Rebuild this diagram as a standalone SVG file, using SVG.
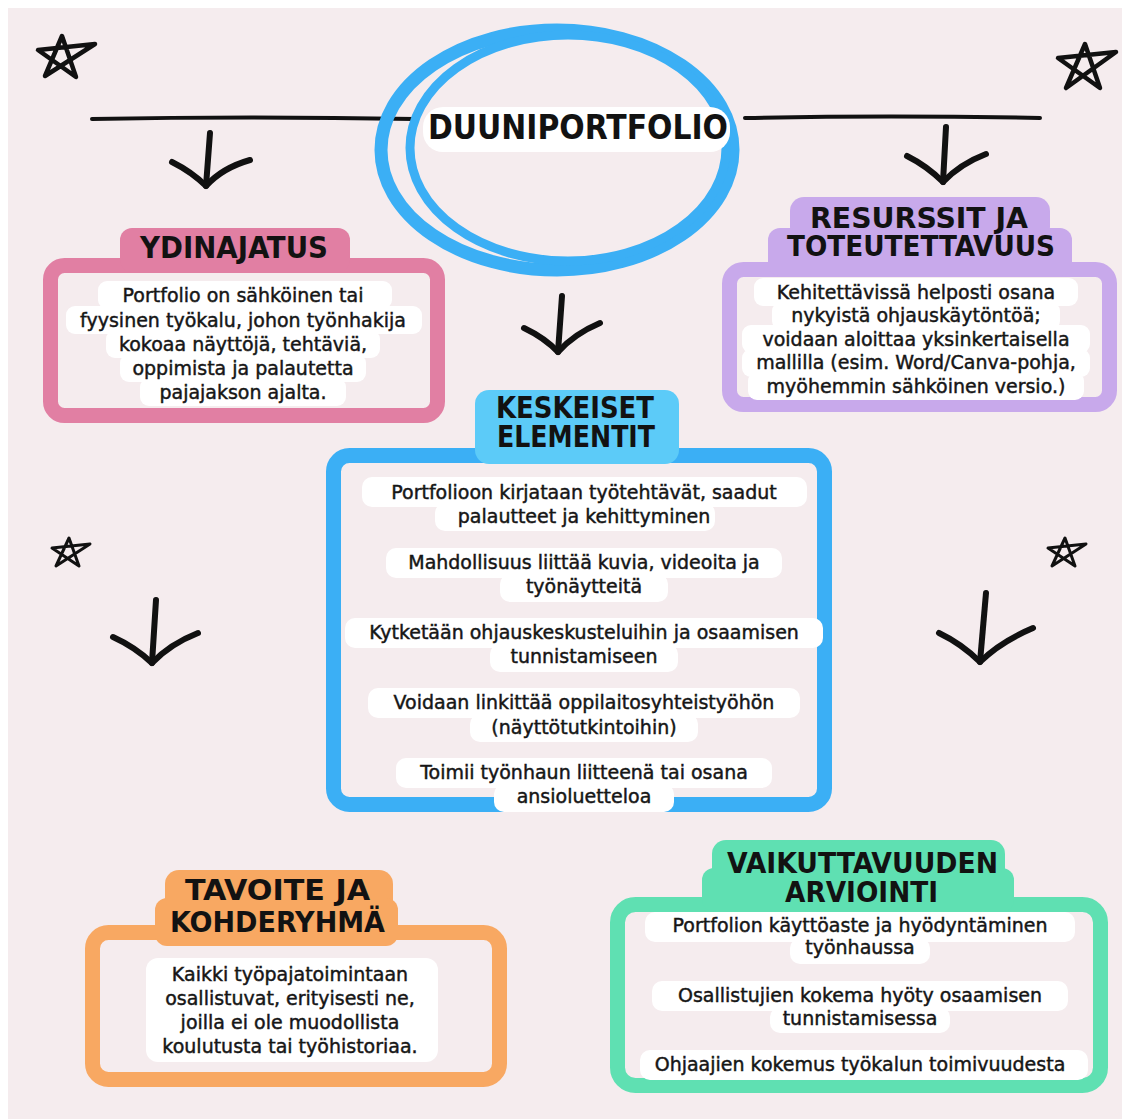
<svg xmlns="http://www.w3.org/2000/svg" width="1122" height="1119" viewBox="0 0 1122 1119">
<style>
.t{font-family:"DejaVu Sans","Noto Sans",sans-serif;font-size:19px;fill:#161616;stroke:#161616;stroke-width:0.45;text-anchor:middle}
.h{font-family:"DejaVu Sans Condensed","Liberation Sans Narrow","DejaVu Sans",sans-serif;font-weight:bold;font-stretch:condensed;fill:#121212}
.blob{fill:#ffffff}
.ink{fill:none;stroke:#111;stroke-linecap:round;stroke-linejoin:round}
.frame{fill:none;stroke-width:15}
</style>
<rect width="1122" height="1119" fill="#ffffff"/>
<rect x="8" y="8" width="1114" height="1111" fill="#F5ECEE"/>

<g id="decorations">
  <path class="ink" stroke-width="4.5" d="M38,50 L95,44 L45,76 L62,36 L76,77 Z"/>
  <path class="ink" stroke-width="4.5" d="M1058,58 L1116,52 L1066,88 L1085,44 L1100,88 Z"/>
  <path class="ink" stroke-width="3" d="M52,548 L90,544 L56,566 L69,538 L79,566 Z"/>
  <path class="ink" stroke-width="3" d="M1048,548 L1086,544 L1052,566 L1065,538 L1075,566 Z"/>
</g>

<g id="connectors">
  <path class="ink" stroke-width="4" d="M92,119 Q250,116 415,119"/>
  <path class="ink" stroke-width="4" d="M745,118 Q890,115 1040,118"/>
  <g stroke-width="6" class="ink">
    <path d="M210,133 L206,186"/><path d="M172,162 Q192,172 206,186 Q222,168 250,160"/>
    <path d="M946,127 L943,182"/><path d="M907,156 Q927,166 943,182 Q960,164 986,154"/>
    <path d="M562,296 L558,352"/><path d="M524,328 Q545,338 558,352 Q574,334 600,323"/>
    <path d="M156,600 L152,663"/><path d="M113,637 Q135,647 152,663 Q170,644 198,633"/>
    <path d="M986,593 L980,662"/><path d="M939,633 Q962,644 980,662 Q1000,642 1033,628"/>
  </g>
</g>

<g id="title">
  <ellipse cx="557" cy="150" rx="176" ry="120" fill="none" stroke="#3BAFF5" stroke-width="13"/>
  <ellipse cx="568" cy="148" rx="158" ry="113" fill="none" stroke="#3BAFF5" stroke-width="9"/>
  <rect x="423" y="107" width="307" height="45" rx="20" fill="#ffffff"/>
  <text class="h" x="428" y="139" font-size="34" textLength="300" lengthAdjust="spacingAndGlyphs">DUUNIPORTFOLIO</text>
</g>

<g id="ydinajatus">
  <rect class="frame" x="50.5" y="265.5" width="387" height="150" rx="14" stroke="#E17FA3"/>
  <rect x="120" y="228" width="230" height="44" rx="12" fill="#E17FA3"/>
  <text class="h" x="140" y="258" font-size="31" textLength="188" lengthAdjust="spacingAndGlyphs">YDINAJATUS</text>
  <rect class="blob" x="98" y="281" width="294" height="28" rx="9"/>
  <rect class="blob" x="66" y="306" width="356" height="28" rx="9"/>
  <rect class="blob" x="106" y="330" width="274" height="28" rx="9"/>
  <rect class="blob" x="120" y="354" width="246" height="28" rx="9"/>
  <rect class="blob" x="140" y="378" width="206" height="28" rx="9"/>
  <text class="t" x="243" y="302">Portfolio on sähköinen tai</text>
  <text class="t" x="243" y="327">fyysinen työkalu, johon työnhakija</text>
  <text class="t" x="243" y="351">kokoaa näyttöjä, tehtäviä,</text>
  <text class="t" x="243" y="375">oppimista ja palautetta</text>
  <text class="t" x="243" y="399">pajajakson ajalta.</text>
</g>

<g id="resurssit">
  <rect class="frame" x="729.5" y="269.5" width="380" height="135" rx="14" stroke="#C8A9EB"/>
  <rect x="790" y="197" width="260" height="44" rx="14" fill="#C8A9EB"/>
  <rect x="768" y="228" width="304" height="48" rx="12" fill="#C8A9EB"/>
  <text class="h" x="810" y="228" font-size="29" textLength="218" lengthAdjust="spacingAndGlyphs">RESURSSIT JA</text>
  <text class="h" x="787" y="256" font-size="29" textLength="268" lengthAdjust="spacingAndGlyphs">TOTEUTETTAVUUS</text>
  <rect class="blob" x="754" y="278" width="324" height="28" rx="9"/>
  <rect class="blob" x="772" y="302" width="288" height="28" rx="9"/>
  <rect class="blob" x="742" y="325" width="348" height="28" rx="9"/>
  <rect class="blob" x="742" y="349" width="348" height="28" rx="9"/>
  <rect class="blob" x="748" y="372" width="336" height="28" rx="9"/>
  <text class="t" x="916" y="299">Kehitettävissä helposti osana</text>
  <text class="t" x="916" y="322">nykyistä ohjauskäytöntöä;</text>
  <text class="t" x="916" y="346">voidaan aloittaa yksinkertaisella</text>
  <text class="t" x="916" y="369">mallilla (esim. Word/Canva-pohja,</text>
  <text class="t" x="916" y="393">myöhemmin sähköinen versio.)</text>
</g>

<g id="keskeiset">
  <rect class="frame" x="333.5" y="455.5" width="491" height="349" rx="16" stroke="#3BAFF5"/>
  <rect x="475" y="390" width="204" height="74" rx="14" fill="#5CCBF8"/>
  <text class="h" x="496" y="418" font-size="30" textLength="158" lengthAdjust="spacingAndGlyphs">KESKEISET</text>
  <text class="h" x="497" y="447" font-size="30" textLength="158" lengthAdjust="spacingAndGlyphs">ELEMENTIT</text>
  <rect class="blob" x="362" y="477" width="445" height="30" rx="10"/>
  <rect class="blob" x="435" y="503" width="280" height="28" rx="10"/>
  <rect class="blob" x="386" y="548" width="396" height="30" rx="10"/>
  <rect class="blob" x="500" y="574" width="168" height="28" rx="10"/>
  <rect class="blob" x="345" y="618" width="478" height="30" rx="10"/>
  <rect class="blob" x="490" y="644" width="188" height="28" rx="10"/>
  <rect class="blob" x="368" y="688" width="432" height="30" rx="10"/>
  <rect class="blob" x="470" y="714" width="228" height="28" rx="10"/>
  <rect class="blob" x="396" y="758" width="376" height="30" rx="10"/>
  <rect class="blob" x="494" y="784" width="180" height="28" rx="10"/>
  <text class="t" x="584" y="499">Portfolioon kirjataan työtehtävät, saadut</text>
  <text class="t" x="584" y="523">palautteet ja kehittyminen</text>
  <text class="t" x="584" y="569">Mahdollisuus liittää kuvia, videoita ja</text>
  <text class="t" x="584" y="593">työnäytteitä</text>
  <text class="t" x="584" y="639">Kytketään ohjauskeskusteluihin ja osaamisen</text>
  <text class="t" x="584" y="663">tunnistamiseen</text>
  <text class="t" x="584" y="709">Voidaan linkittää oppilaitosyhteistyöhön</text>
  <text class="t" x="584" y="734">(näyttötutkintoihin)</text>
  <text class="t" x="584" y="779">Toimii työnhaun liitteenä tai osana</text>
  <text class="t" x="584" y="803">ansioluetteloa</text>
</g>

<g id="tavoite">
  <rect class="frame" x="92.5" y="932.5" width="407" height="147" rx="16" stroke="#F8A862"/>
  <rect x="165" y="870" width="228" height="44" rx="14" fill="#F8A862"/>
  <rect x="155" y="898" width="243" height="48" rx="12" fill="#F8A862"/>
  <text class="h" x="185" y="900" font-size="28" textLength="185" lengthAdjust="spacingAndGlyphs">TAVOITE JA</text>
  <text class="h" x="170" y="932" font-size="28" textLength="215" lengthAdjust="spacingAndGlyphs">KOHDERYHMÄ</text>
  <rect class="blob" x="146" y="958" width="292" height="104" rx="12"/>
  <text class="t" x="290" y="981">Kaikki työpajatoimintaan</text>
  <text class="t" x="290" y="1005">osallistuvat, erityisesti ne,</text>
  <text class="t" x="290" y="1029">joilla ei ole muodollista</text>
  <text class="t" x="290" y="1053">koulutusta tai työhistoriaa.</text>
</g>

<g id="vaikuttavuus">
  <rect class="frame" x="617.5" y="904.5" width="483" height="181" rx="18" stroke="#5FE0B2"/>
  <rect x="712" y="840" width="293" height="44" rx="14" fill="#5FE0B2"/>
  <rect x="702" y="868" width="312" height="44" rx="12" fill="#5FE0B2"/>
  <text class="h" x="727" y="873" font-size="29" textLength="271" lengthAdjust="spacingAndGlyphs">VAIKUTTAVUUDEN</text>
  <text class="h" x="785" y="902" font-size="29" textLength="153" lengthAdjust="spacingAndGlyphs">ARVIOINTI</text>
  <rect class="blob" x="645" y="912" width="430" height="30" rx="10"/>
  <rect class="blob" x="790" y="938" width="140" height="26" rx="10"/>
  <rect class="blob" x="652" y="981" width="416" height="30" rx="10"/>
  <rect class="blob" x="770" y="1007" width="180" height="26" rx="10"/>
  <rect class="blob" x="640" y="1050" width="448" height="30" rx="10"/>
  <text class="t" x="860" y="932">Portfolion käyttöaste ja hyödyntäminen</text>
  <text class="t" x="860" y="954">työnhaussa</text>
  <text class="t" x="860" y="1002">Osallistujien kokema hyöty osaamisen</text>
  <text class="t" x="860" y="1025">tunnistamisessa</text>
  <text class="t" x="860" y="1071">Ohjaajien kokemus työkalun toimivuudesta</text>
</g>
</svg>
